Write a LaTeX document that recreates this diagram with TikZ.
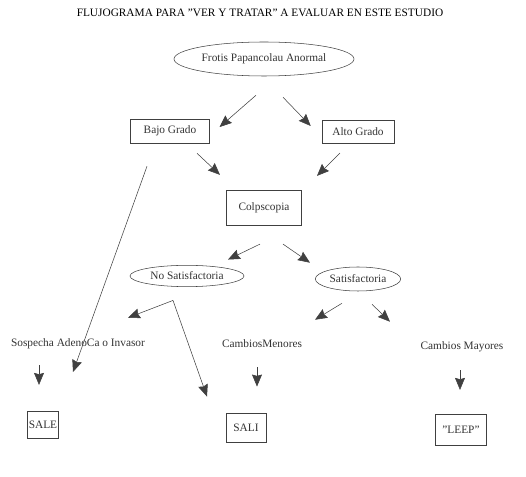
\documentclass[tikz,border=0pt]{standalone}
\usepackage{fontspec}
\setmainfont{Liberation Serif}
\usetikzlibrary{shapes.geometric,arrows.meta}

\begin{document}
\begin{tikzpicture}[x=0.75pt,y=-0.75pt]

    % Estilos
    \tikzstyle{titulo} = [inner sep=0, font=\fontsize{8.5}{10}\selectfont]
    \tikzstyle{elipse} = [ellipse, draw=black!75, thin, inner sep=0, text=black!80, font=\fontsize{8.5}{10}\selectfont]
    \tikzstyle{caja} = [rectangle, draw=black!75, thin, inner sep=0, text=black!80, font=\fontsize{8.5}{10}\selectfont]
    \tikzstyle{texto} = [inner sep=0, text height=6pt, text depth=1.5pt, text=black!80, font=\fontsize{8.5}{10}\selectfont]
    \tikzstyle{arrow} = [draw=black!75, thin, -{Stealth[length=9pt,width=7.5pt,inset=1pt]}]

    \useasboundingbox (0,0) rectangle (526,477);

    % Nodos
    \node (titulo) [titulo] at (260,13) {FLUJOGRAMA PARA \char"22 VER Y TRATAR\char"22{} A EVALUAR EN ESTE ESTUDIO};
    \node (frotis) [elipse, minimum width=135pt, minimum height=25.5pt] at (264,59) {Frotis Papancolau Anormal};
    \node (bajo) [caja, minimum width=59pt, minimum height=18pt] at (170,131) {Bajo Grado};
    \node (alto) [caja, minimum width=54pt, minimum height=17pt] at (358,132) {Alto Grado};
    \node (colpo) [caja, minimum width=56pt, minimum height=26pt] at (264,208) {Colpscopia};
    \node (nosat) [elipse, minimum width=85.5pt, minimum height=16pt] at (187,276) {No Satisfactoria};
    \node (sat) [elipse, minimum width=64pt, minimum height=18pt] at (358,279) {Satisfactoria};
    \node (sospecha) [texto] at (78,344) {Sospecha AdenoCa o Invasor};
    \node (menores) [texto] at (262,345) {CambiosMenores};
    \node (mayores) [texto] at (462,347) {Cambios Mayores};
    \node (sale) [caja, minimum width=23pt, minimum height=20pt] at (43,425) {SALE};
    \node (sali) [caja, minimum width=30pt, minimum height=22pt] at (246,428) {SALI};
    \node (leep) [caja, minimum width=38pt, minimum height=23pt] at (461,430) {\char"22 LEEP\char"22};
    \coordinate (vertice) at ([shift={(-14,13.5)}]nosat.south);

    % Flechas
    \draw [arrow] ([shift={(-8,19)}]frotis.south) -- ([shift={(10,-4)}]bajo.east);
    \draw [arrow] ([shift={(19,21)}]frotis.south) -- ([shift={(-11,-6)}]alto.west);
    \draw [arrow] ([shift={(27,10)}]bajo.south) -- ([shift={(-44,-15.5)}]colpo.north);
    \draw [arrow] ([shift={(-18,9.5)}]alto.south) -- ([shift={(53,-14.5)}]colpo.north);
    \draw [arrow] ([shift={(-4,18.5)}]colpo.south) -- ([shift={(41,-5.5)}]nosat.north);
    \draw [arrow] ([shift={(19,18.5)}]colpo.south) -- ([shift={(-48,-4)}]sat.north);
    \draw [arrow] ([shift={(-23,23)}]bajo.south) -- ([shift={(-5,28)}]sospecha.center);
    \draw [arrow] (vertice) -- ([shift={(50,-21)}]sospecha.north);
    \draw [arrow] (vertice) -- ([shift={(-39,-16.5)}]sali.north);
    \draw [arrow] ([shift={(-16,12)}]sat.south) -- ([shift={(53,-20)}]menores.north);
    \draw [arrow] ([shift={(14,13)}]sat.south) -- ([shift={(-72,-20)}]mayores.north);
    \draw [arrow] ([shift={(-39,16)}]sospecha.south) -- ([shift={(-4,-26.5)}]sale.north);
    \draw [arrow] ([shift={(-5,17)}]menores.south) -- ([shift={(11,-26.5)}]sali.north);
    \draw [arrow] ([shift={(-2,18)}]mayores.south) -- ([shift={(-1,-24.5)}]leep.north);

\end{tikzpicture}
\end{document}
